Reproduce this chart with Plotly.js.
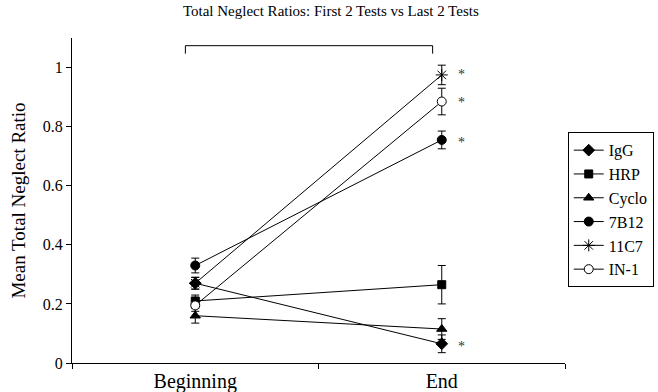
<!DOCTYPE html>
<html><head><meta charset="utf-8">
<script src="https://cdn.plot.ly/plotly-3.0.1.min.js"></script>
<style>body{margin:0;background:#fff}#chart{width:658px;height:392px}</style>
</head><body><div id="chart"></div>
<script>
const categories = ["Beginning", "End"];
const seriesNames = ["IgG", "HRP", "Cyclo", "7B12", "11C7", "IN-1"];
const igg = [0.27, 0.065];
const iggErr = [0.02, 0.03];
const hrp = [0.21, 0.265];
const hrpErr = [0.02, 0.065];
const cyclo = [0.16, 0.115];
const cycloErr = [0.025, 0.035];
const b7b12 = [0.33, 0.755];
const b7b12Err = [0.025, 0.03];
const c11c7 = [0.27, 0.975];
const c11c7Err = [0.02, 0.033];
const in1 = [0.195, 0.885];
const in1Err = [0.02, 0.045];
const starSeries = [[1, 0.978], [1, 0.882], [1, 0.748], [1, 0.055]];

const FONT = "Liberation Serif";
const values = [igg, hrp, cyclo, b7b12, c11c7, in1];
const errs = [iggErr, hrpErr, cycloErr, b7b12Err, c11c7Err, in1Err];
const symbols = ["diamond", "square", "triangle-up", "circle", "asterisk-open", "circle"];
const fills = ["#000", "#000", "#000", "#000", "#000", "#fff"];
const sizes = [9, 8, 9, 9, 10, 9];

const traces = seriesNames.map((n, i) => ({
  type: "scatter", mode: "lines+markers", name: n,
  x: categories, y: values[i],
  line: {color: "#000", width: 1},
  marker: {symbol: symbols[i], size: sizes[i], color: fills[i],
           line: {color: "#000", width: 1}},
  error_y: {type: "data", array: errs[i], visible: true, color: "#000", thickness: 1, width: 4}
}));

const annotations = starSeries.map(p => ({
  x: p[0] + 0.08, y: p[1], xref: "x", yref: "y", text: "*", showarrow: false,
  font: {family: FONT, size: 14, color: "#333"}
}));
annotations.push({x: 0.46, y: 1.115, xref: "x", yref: "y", text: "*", showarrow: false,
  font: {family: FONT, size: 14, color: "#333"}});

const layout = {
  width: 658, height: 392,
  margin: {l: 72, r: 93, t: 38, b: 29, autoexpand: false},
  paper_bgcolor: "#fff", plot_bgcolor: "#fff",
  font: {family: FONT, color: "#000"},
  title: {text: "Total Neglect Ratios: First 2 Tests vs Last 2 Tests",
          font: {family: FONT, size: 15, color: "#000"},
          x: 0.525, xref: "paper", xanchor: "center", y: 0.972, yanchor: "middle"},
  xaxis: {type: "category", range: [-0.5, 1.5], showgrid: false, zeroline: false,
          showline: true, linecolor: "#000", linewidth: 1, automargin: false,
          ticks: "outside", tickson: "boundaries", ticklen: 5, tickcolor: "#000",
          tickfont: {family: FONT, size: 20, color: "#000"}},
  yaxis: {range: [0, 1.1], dtick: 0.2, tick0: 0, showgrid: false, zeroline: false,
          showline: true, linecolor: "#000", linewidth: 1, automargin: false,
          ticks: "outside", ticklen: 5, tickcolor: "#000",
          tickfont: {family: FONT, size: 16, color: "#000"},
          title: {text: "Mean Total Neglect Ratio", font: {family: FONT, size: 19, color: "#000"}, standoff: 12}},
  legend: {x: 1.18, xanchor: "right", y: 0.71, yanchor: "top", bordercolor: "#000", borderwidth: 1,
           bgcolor: "#fff", itemwidth: 30, font: {family: FONT, size: 16, color: "#000"}},
  shapes: [{type: "path", xref: "x", yref: "y", path: "M -0.04 1.047 L -0.04 1.074 L 0.963 1.074 L 0.963 1.047",
            line: {color: "#000", width: 1}}],
  annotations: annotations,
  showlegend: true
};
Plotly.newPlot("chart", traces, layout, {staticPlot: true});
</script></body></html>
